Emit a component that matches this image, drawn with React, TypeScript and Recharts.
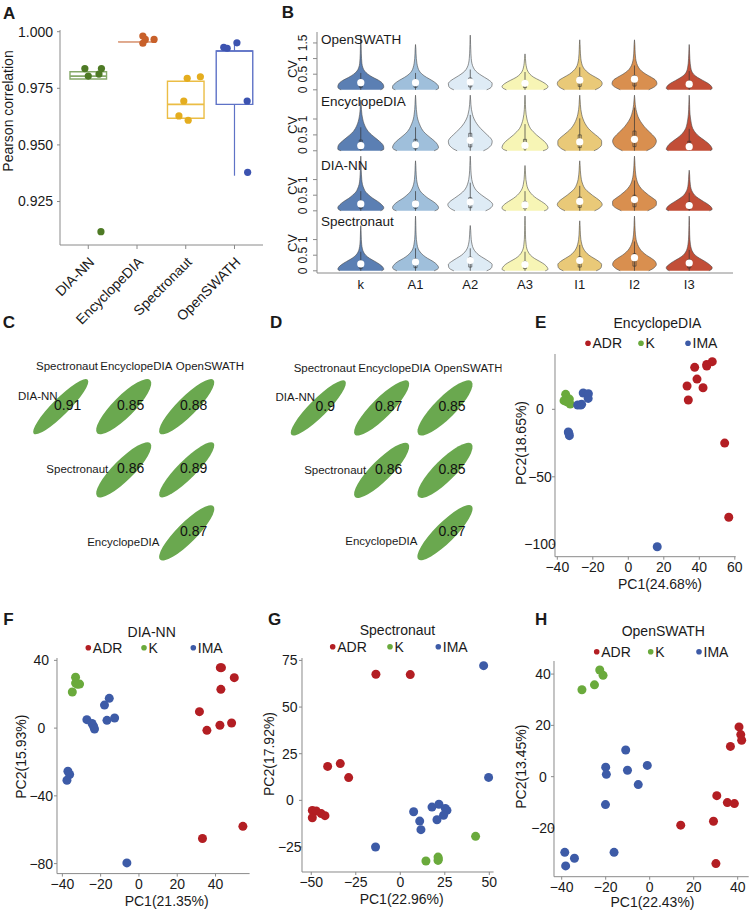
import React from "react";
import {
  ComposedChart,
  ScatterChart,
  Scatter,
  Area,
  XAxis,
  YAxis,
  ReferenceArea,
  ReferenceLine,
  ReferenceDot,
} from "recharts";

const FONT = '"Liberation Sans", Arial, Helvetica, sans-serif';
const INK = "#1a1a1a";
const FRAME = "#8a8a8a";

// ---------- A: Pearson correlation between replicates ----------
const methodsA = ["DIA-NN", "EncyclopeDIA", "Spectronaut", "OpenSWATH"];
const q1A = [0.9791, 0.9954, 0.9618, 0.9679];
const medianA = [0.9804, 0.9955, 0.9679, 0.9915];
const q3A = [0.9823, 0.9956, 0.9781, 0.9915];
const whiskerLowA = [0.9791, 0.9954, 0.9618, 0.9364];
const whiskerHighA = [0.9823, 0.9956, 0.9781, 0.9951];

const pearsonDiann = [0.9837, 0.9804, 0.9813, 0.9837, 0.9117];
const jitterDiann = [-0.07, 0.0, 0.22, 0.27, 0.26];
const pearsonEncyclo = [0.9981, 0.9966, 0.9949, 0.9966];
const jitterEncyclo = [0.12, 0.17, 0.12, 0.35];
const pearsonSpectro = [0.9794, 0.9801, 0.9694, 0.9628, 0.9609];
const jitterSpectro = [0.03, 0.3, -0.04, -0.14, 0.05];
const pearsonOpen = [0.9931, 0.9927, 0.9951, 0.9694, 0.9379];
const jitterOpen = [-0.22, -0.15, 0.05, 0.26, 0.27];

const pointColorA = ["#4e7a25", "#c8602a", "#e4ad1f", "#3c53b0"];
const boxColorA = ["#86a96a", "#dfa88c", "#ebbd45", "#5e72c6"];

// ---------- B: CV violins ----------
const groupsB = ["k", "A1", "A2", "A3", "I1", "I2", "I3"];
const cvLevels = [0, 0.05, 0.1, 0.2, 0.3, 0.4, 0.5, 0.6, 0.7, 0.85, 1.0, 1.15, 1.3, 1.45, 1.6, 1.75];

// half-width of each violin at every cv level (null above its tip)
const violinOpen = [
  [0.36, 0.41, 0.42, 0.4, 0.33, 0.22, 0.13, 0.07, 0.04, 0.02, 0.014, 0.01, 0.008, 0.006, 0.004, 0],
  [0.37, 0.42, 0.42, 0.38, 0.3, 0.2, 0.12, 0.07, 0.045, 0.025, 0.015, 0.01, 0.007, 0, null, null],
  [0.3, 0.36, 0.39, 0.4, 0.35, 0.26, 0.17, 0.1, 0.06, 0.03, 0.018, 0.012, 0.009, 0.006, 0.004, 0],
  [0.34, 0.4, 0.42, 0.37, 0.27, 0.16, 0.09, 0.05, 0.03, 0.015, 0.008, 0, null, null, null, null],
  [0.28, 0.34, 0.38, 0.41, 0.38, 0.29, 0.19, 0.12, 0.07, 0.035, 0.02, 0.013, 0.009, 0.006, 0, null],
  [0.26, 0.32, 0.37, 0.41, 0.39, 0.31, 0.21, 0.13, 0.08, 0.04, 0.022, 0.014, 0.01, 0.007, 0, null],
  [0.38, 0.42, 0.41, 0.35, 0.25, 0.15, 0.08, 0.045, 0.03, 0.018, 0.012, 0.008, 0.005, 0, null, null],
];
const violinEncyclo = [
  [0.36, 0.42, 0.42, 0.4, 0.34, 0.27, 0.2, 0.14, 0.1, 0.06, 0.035, 0.02, 0.012, 0.008, 0, null],
  [0.34, 0.4, 0.42, 0.4, 0.35, 0.28, 0.21, 0.15, 0.11, 0.07, 0.04, 0.025, 0.015, 0.01, 0.006, 0],
  [0.24, 0.3, 0.34, 0.39, 0.4, 0.37, 0.31, 0.25, 0.19, 0.12, 0.07, 0.04, 0.022, 0.012, 0.007, 0],
  [0.33, 0.4, 0.42, 0.4, 0.35, 0.28, 0.21, 0.15, 0.1, 0.06, 0.035, 0.02, 0.012, 0.008, 0.005, 0],
  [0.26, 0.32, 0.36, 0.4, 0.4, 0.36, 0.29, 0.22, 0.16, 0.1, 0.06, 0.035, 0.02, 0.012, 0.007, 0],
  [0.22, 0.28, 0.33, 0.38, 0.4, 0.38, 0.33, 0.27, 0.21, 0.14, 0.085, 0.05, 0.028, 0.015, 0.008, 0],
  [0.38, 0.42, 0.41, 0.37, 0.3, 0.22, 0.15, 0.1, 0.065, 0.04, 0.025, 0.015, 0.01, 0.007, 0.004, 0],
];
const violinDiann = [
  [0.36, 0.41, 0.42, 0.38, 0.31, 0.22, 0.15, 0.09, 0.06, 0.03, 0.018, 0.012, 0.008, 0.006, 0.004, 0],
  [0.35, 0.41, 0.42, 0.39, 0.32, 0.23, 0.16, 0.1, 0.065, 0.035, 0.02, 0.013, 0.009, 0.006, 0, null],
  [0.28, 0.34, 0.38, 0.41, 0.37, 0.29, 0.21, 0.14, 0.09, 0.05, 0.028, 0.017, 0.011, 0.008, 0.005, 0],
  [0.35, 0.41, 0.42, 0.38, 0.3, 0.21, 0.14, 0.09, 0.055, 0.03, 0.017, 0.011, 0.007, 0, null, null],
  [0.27, 0.33, 0.37, 0.41, 0.38, 0.31, 0.23, 0.16, 0.1, 0.055, 0.03, 0.018, 0.011, 0.007, 0, null],
  [0.24, 0.3, 0.35, 0.4, 0.4, 0.34, 0.26, 0.19, 0.13, 0.07, 0.04, 0.024, 0.015, 0.01, 0.006, 0],
  [0.37, 0.42, 0.41, 0.35, 0.26, 0.17, 0.1, 0.06, 0.035, 0.02, 0.012, 0.008, 0, null, null, null],
];
const violinSpectro = [
  [0.38, 0.42, 0.41, 0.35, 0.26, 0.16, 0.09, 0.05, 0.03, 0.016, 0.01, 0.007, 0.005, 0, null, null],
  [0.34, 0.4, 0.42, 0.39, 0.32, 0.22, 0.14, 0.085, 0.05, 0.028, 0.016, 0.011, 0.008, 0.006, 0.004, 0],
  [0.3, 0.36, 0.39, 0.4, 0.34, 0.25, 0.16, 0.1, 0.06, 0.032, 0.018, 0.012, 0.008, 0, null, null],
  [0.37, 0.42, 0.41, 0.36, 0.27, 0.17, 0.1, 0.06, 0.035, 0.02, 0.012, 0.009, 0.007, 0.005, 0.004, 0],
  [0.3, 0.36, 0.39, 0.4, 0.35, 0.26, 0.17, 0.11, 0.07, 0.038, 0.021, 0.013, 0.009, 0.006, 0, null],
  [0.26, 0.32, 0.36, 0.4, 0.38, 0.31, 0.22, 0.15, 0.1, 0.055, 0.03, 0.018, 0.012, 0.008, 0.005, 0],
  [0.36, 0.41, 0.42, 0.37, 0.29, 0.19, 0.11, 0.065, 0.04, 0.022, 0.013, 0.009, 0.007, 0.005, 0.004, 0],
];

const medianOpen = [0.23, 0.23, 0.25, 0.21, 0.31, 0.34, 0.18];
const medianEncyclo = [0.16, 0.19, 0.33, 0.17, 0.28, 0.36, 0.13];
const medianDiann = [0.22, 0.22, 0.28, 0.19, 0.3, 0.36, 0.17];
const medianSpectro = [0.22, 0.28, 0.33, 0.2, 0.33, 0.42, 0.25];

const q1Open = [0.08, 0.08, 0.09, 0.07, 0.11, 0.12, 0.06];
const q1Encyclo = [0.05, 0.06, 0.12, 0.06, 0.1, 0.13, 0.05];
const q1Diann = [0.08, 0.08, 0.1, 0.07, 0.11, 0.13, 0.06];
const q1Spectro = [0.08, 0.1, 0.12, 0.07, 0.12, 0.15, 0.09];

const q3Open = [0.32, 0.32, 0.38, 0.3, 0.42, 0.46, 0.28];
const q3Encyclo = [0.34, 0.36, 0.55, 0.36, 0.5, 0.62, 0.3];
const q3Diann = [0.32, 0.33, 0.42, 0.3, 0.44, 0.5, 0.28];
const q3Spectro = [0.32, 0.38, 0.44, 0.3, 0.45, 0.55, 0.36];

const whiskerOpen = [0.54, 0.54, 0.65, 0.57, 0.72, 0.78, 0.6];
const whiskerEncyclo = [0.74, 0.74, 1.13, 0.84, 1.02, 1.36, 0.69];
const whiskerDiann = [0.63, 0.63, 0.9, 0.63, 0.8, 0.97, 0.58];
const whiskerSpectro = [0.61, 0.72, 0.72, 0.61, 0.83, 0.94, 0.67];

const violinColors = ["#5b7fb3", "#9fbfdb", "#deebf5", "#f7f5b5", "#e9c978", "#d98f4f", "#c24e37"];

// ---------- C / D: correlation ellipses ----------
const corrCols = ["Spectronaut", "EncyclopeDIA", "OpenSWATH"];
const corrRows = ["DIA-NN", "Spectronaut", "EncyclopeDIA"];
const corrC = [
  [0.91, 0.85, 0.88],
  [null, 0.86, 0.89],
  [null, null, 0.87],
];
const corrD = [
  [0.9, 0.87, 0.85],
  [null, 0.86, 0.85],
  [null, null, 0.87],
];

// ---------- E-H: PCA ----------
const eAdrPc1 = [47.3, 44.2, 44.2, 37.4, 38.7, 33.1, 42.1, 33.8, 54.3, 56.6];
const eAdrPc2 = [35.3, 33.3, 32.1, 31.1, 22.4, 17.3, 16.0, 6.9, -25.0, -80.0];
const eKPc1 = [-35.3, -33.2, -36.2, -32.7, -34.6];
const eKPc2 = [11.1, 7.6, 6.4, 3.9, 5.5];
const eImaPc1 = [-25.4, -22.5, -22.6, -28.5, -26.8, -26.3, -33.8, -33.2, -33.5, 16.3];
const eImaPc2 = [12.1, 11.6, 8.1, 3.2, 3.2, 3.7, -16.8, -19.5, -17.8, -101.8];

const fAdrPc1 = [42.5, 43.1, 49.8, 42.8, 31.6, 42.3, 48.4, 35.5, 33.2, 54.3];
const fAdrPc2 = [35.7, 35.7, 29.8, 22.9, 9.7, 1.7, 3.0, -1.3, -65.2, -58.0];
const fKPc1 = [-33.1, -33.1, -31.0, -34.8, -32.1];
const fKPc2 = [30.0, 26.6, 26.0, 21.3, 25.9];
const fImaPc1 = [-15.5, -18.0, -27.2, -16.7, -12.7, -24.5, -23.7, -23.2, -37.1, -36.2, -37.6, -6.3];
const fImaPc2 = [17.6, 13.6, 5.0, 4.6, 6.0, 2.7, 1.1, -0.5, -25.5, -27.4, -30.8, -79.6];

const gAdrPc1 = [-13.7, 5.6, -40.8, -33.7, -29.0, -49.4, -47.2, -44.4, -42.3, -49.4];
const gAdrPc2 = [67.6, 67.4, 18.2, 19.7, 12.2, -5.4, -5.7, -7.1, -8.2, -9.3];
const gKPc1 = [42.3, 14.4, 21.2, 21.2, 21.4];
const gKPc2 = [-19.3, -32.5, -30.4, -32.2, -31.4];
const gImaPc1 = [46.8, 49.6, 7.5, 17.8, 21.7, 25.3, 26.2, 24.3, 20.6, 10.9, 11.6, -13.9];
const gImaPc2 = [72.2, 12.3, -6.1, -3.6, -2.1, -4.3, -5.4, -8.0, -10.4, -11.1, -15.7, -25.0];

const hAdrPc1 = [40.6, 41.4, 41.8, 36.7, 30.5, 35.3, 38.5, 29.0, 14.1, 30.1];
const hAdrPc2 = [19.4, 16.4, 14.2, 11.8, -7.4, -10.1, -10.5, -17.4, -18.9, -33.9];
const hKPc1 = [-22.7, -21.2, -25.1, -30.8];
const hKPc2 = [41.6, 39.5, 35.8, 33.9];
const hImaPc1 = [-10.9, -1.1, -20.0, -10.1, -19.7, -5.2, -20.1, -38.6, -34.2, -38.2, -16.2];
const hImaPc2 = [10.4, 4.4, 3.7, 2.5, 0.9, -3.1, -10.9, -29.5, -31.8, -34.8, -29.5];

const groupLabels = ["ADR", "K", "IMA"];
const groupColors = ["#b31e23", "#6aaa3c", "#3d5ba7"];

const zip = (xs: number[], ys: number[]) => xs.map((x, i) => ({ x, y: ys[i] }));
const minus = (v: number) => String(v).replace("-", "\u2212");

// ---------------- Panel A ----------------
function SlantTick(props: any) {
  const { x, y, payload } = props;
  const ax = x + 7;
  const ay = y + 12;
  return (
    <text
      x={ax}
      y={ay}
      transform={`rotate(-45 ${ax} ${ay})`}
      textAnchor="end"
      fontSize={14}
      fill={INK}
      fontFamily={FONT}
    >
      {methodsA[payload.value - 1]}
    </text>
  );
}

function PanelA() {
  const domainX = [0.42, 4.585];
  const pointSets = [
    zip(jitterDiann.map((j) => 1 + j), pearsonDiann),
    zip(jitterEncyclo.map((j) => 2 + j), pearsonEncyclo),
    zip(jitterSpectro.map((j) => 3 + j), pearsonSpectro),
    zip(jitterOpen.map((j) => 4 + j), pearsonOpen),
  ];
  const half = 0.375;

  return (
    <div style={{ position: "absolute", left: 0, top: 0 }}>
      <ComposedChart width={268} height={330} margin={{ top: 30, right: 5, bottom: 0, left: 0 }}>
        <XAxis
          type="number"
          dataKey="x"
          domain={domainX}
          ticks={[1, 2, 3, 4]}
          interval={0}
          allowDataOverflow
          height={85}
          tickSize={4}
          tickMargin={2}
          tick={<SlantTick />}
          axisLine={{ stroke: FRAME }}
          tickLine={{ stroke: FRAME }}
        />
        <XAxis
          xAxisId="top"
          orientation="top"
          type="number"
          domain={domainX}
          allowDataOverflow
          height={0}
          tick={false}
          tickLine={false}
          axisLine={{ stroke: FRAME }}
        />
        <YAxis
          type="number"
          dataKey="y"
          domain={[0.9058, 1.00075]}
          ticks={[0.925, 0.95, 0.975, 1]}
          interval={0}
          allowDataOverflow
          width={60}
          tickSize={3}
          tickMargin={4}
          tickFormatter={(v: number) => v.toFixed(3)}
          tick={{ fontSize: 14, fill: INK, fontFamily: FONT }}
          axisLine={{ stroke: FRAME }}
          tickLine={{ stroke: FRAME }}
        />
        <YAxis
          yAxisId="right"
          orientation="right"
          type="number"
          domain={[0.9058, 1.00075]}
          width={0}
          tick={false}
          tickLine={false}
          axisLine={{ stroke: FRAME }}
        />

        {methodsA.map((m, i) => (
          <ReferenceArea
            key={`box-${m}`}
            x1={i + 1 - half}
            x2={i + 1 + half}
            y1={q1A[i]}
            y2={q3A[i]}
            fill="#ffffff"
            fillOpacity={0.6}
            stroke={boxColorA[i]}
            strokeWidth={1.4}
          />
        ))}
        {methodsA.map((m, i) => (
          <ReferenceLine
            key={`med-${m}`}
            segment={[
              { x: i + 1 - half, y: medianA[i] },
              { x: i + 1 + half, y: medianA[i] },
            ]}
            stroke={boxColorA[i]}
            strokeWidth={1.6}
          />
        ))}
        {methodsA.map((m, i) => (
          <ReferenceLine
            key={`wlo-${m}`}
            segment={[
              { x: i + 1, y: q1A[i] },
              { x: i + 1, y: whiskerLowA[i] },
            ]}
            stroke={boxColorA[i]}
            strokeWidth={1.2}
          />
        ))}
        {methodsA.map((m, i) => (
          <ReferenceLine
            key={`whi-${m}`}
            segment={[
              { x: i + 1, y: q3A[i] },
              { x: i + 1, y: whiskerHighA[i] },
            ]}
            stroke={boxColorA[i]}
            strokeWidth={1.2}
          />
        ))}

        {pointSets.map((pts, i) => (
          <Scatter
            key={`pts-${i}`}
            data={pts}
            isAnimationActive={false}
            shape={(p: any) => <circle cx={p.cx} cy={p.cy} r={3.6} fill={pointColorA[i]} />}
          />
        ))}
      </ComposedChart>
    </div>
  );
}

// ---------------- Panel B ----------------
function CvTick(props: any) {
  const { x, y, payload } = props;
  return (
    <text
      x={x}
      y={y}
      transform={`rotate(-90 ${x} ${y})`}
      textAnchor="middle"
      fontSize={12}
      fill={INK}
      fontFamily={FONT}
    >
      {payload.value}
    </text>
  );
}

const rowTopsB = [32, 92, 153, 213];
const rowHeightsB = [60, 61, 60, 60];

function ViolinRow({ idx, widths, medians, q1, q3, whiskers, yTicks }: any) {
  const data = cvLevels.map((cv, li) => {
    const row: any = { cv };
    groupsB.forEach((g, gi) => {
      row[g] = widths[gi][li];
    });
    return row;
  });
  const last = idx === 3;
  const xAxisH = last ? 22 : 0;
  const domainX = [0.2, 7.8];
  const domainY = [-0.07, 1.85];

  return (
    <div style={{ position: "absolute", left: 262, top: rowTopsB[idx] - 1 }}>
      <ComposedChart
        layout="vertical"
        width={472}
        height={rowHeightsB[idx] + 2 + xAxisH}
        data={data}
        margin={{ top: 1, right: 1, bottom: 1, left: 0 }}
      >
        <XAxis
          type="number"
          domain={domainX}
          ticks={[1, 2, 3, 4, 5, 6, 7]}
          interval={0}
          allowDataOverflow
          height={xAxisH}
          tickLine={false}
          tickMargin={1}
          tick={last ? { fontSize: 13, fill: INK, fontFamily: FONT } : false}
          tickFormatter={(v: number) => groupsB[v - 1]}
          axisLine={{ stroke: FRAME }}
        />
        <XAxis
          xAxisId="top"
          orientation="top"
          type="number"
          domain={domainX}
          allowDataOverflow
          height={0}
          tick={false}
          tickLine={false}
          axisLine={{ stroke: FRAME }}
        />
        <YAxis
          type="number"
          dataKey="cv"
          domain={domainY}
          reversed
          ticks={yTicks}
          interval={0}
          allowDataOverflow
          width={55}
          tickSize={4}
          tickMargin={6}
          tick={<CvTick />}
          axisLine={{ stroke: FRAME }}
          tickLine={{ stroke: FRAME }}
        />
        <YAxis
          yAxisId="right"
          orientation="right"
          type="number"
          domain={domainY}
          reversed
          allowDataOverflow
          width={0}
          tick={false}
          tickLine={false}
          axisLine={{ stroke: FRAME }}
        />

        {groupsB.map((g, gi) => (
          <Area
            key={g}
            dataKey={(d: any) => (d[g] == null ? [null, null] : [gi + 1 - d[g], gi + 1 + d[g]])}
            type="monotone"
            fill={violinColors[gi]}
            fillOpacity={1}
            stroke="#4a4a4a"
            strokeWidth={0.6}
            dot={false}
            activeDot={false}
            isAnimationActive={false}
          />
        ))}
        {groupsB.map((g, gi) => (
          <ReferenceLine
            key={`w-${g}`}
            segment={[
              { x: gi + 1, y: 0 },
              { x: gi + 1, y: whiskers[gi] },
            ]}
            stroke="#333333"
            strokeWidth={0.7}
          />
        ))}
        {groupsB.map((g, gi) => (
          <ReferenceArea
            key={`b-${g}`}
            x1={gi + 1 - 0.028}
            x2={gi + 1 + 0.028}
            y1={q1[gi]}
            y2={q3[gi]}
            fill="none"
            stroke="#333333"
            strokeWidth={0.6}
          />
        ))}
        {groupsB.map((g, gi) => (
          <ReferenceDot key={`m-${g}`} x={gi + 1} y={medians[gi]} r={3.6} fill="#ffffff" stroke="none" />
        ))}
      </ComposedChart>
    </div>
  );
}

function PanelB() {
  return (
    <>
      <ViolinRow idx={0} widths={violinOpen} medians={medianOpen} q1={q1Open} q3={q3Open} whiskers={whiskerOpen} yTicks={[0, 0.5, 1, 1.5]} />
      <ViolinRow idx={1} widths={violinEncyclo} medians={medianEncyclo} q1={q1Encyclo} q3={q3Encyclo} whiskers={whiskerEncyclo} yTicks={[0, 0.5, 1]} />
      <ViolinRow idx={2} widths={violinDiann} medians={medianDiann} q1={q1Diann} q3={q3Diann} whiskers={whiskerDiann} yTicks={[0, 0.5, 1]} />
      <ViolinRow idx={3} widths={violinSpectro} medians={medianSpectro} q1={q1Spectro} q3={q3Spectro} whiskers={whiskerSpectro} yTicks={[0, 0.5, 1]} />
    </>
  );
}

// ---------------- Panels C / D ----------------
const corrHeaderX = [1.1, 2.2, 3.37];
const corrHeaderY = 0.36;
const corrRowLabelX = [0.95, 1.755, 2.565];
const corrRowLabelY = [0.83, 1.99, 3.14];

function CorrPanel({ left, top, width, height, xDomain, values }: any) {
  const cells: any[] = [];
  values.forEach((row: any[], ri: number) =>
    row.forEach((v: any, ci: number) => {
      if (v != null) cells.push({ x: ci + 1, y: ri + 1, r: v });
    })
  );
  const labels = [
    ...corrCols.map((t, i) => ({ x: corrHeaderX[i], y: corrHeaderY, text: t, anchor: "middle" })),
    ...corrRows.map((t, i) => ({ x: corrRowLabelX[i], y: corrRowLabelY[i], text: t, anchor: "end" })),
  ];
  const yDomain = [0.07, 3.53];
  const s = 27.6;

  return (
    <div style={{ position: "absolute", left: left - 1, top: top - 1 }}>
      <ScatterChart width={width + 2} height={height + 2} margin={{ top: 1, right: 1, bottom: 1, left: 1 }}>
        <XAxis type="number" dataKey="x" domain={xDomain} allowDataOverflow height={0} tick={false} tickLine={false} axisLine={{ stroke: "#777" }} />
        <XAxis xAxisId="top" orientation="top" type="number" domain={xDomain} allowDataOverflow height={0} tick={false} tickLine={false} axisLine={{ stroke: "#777" }} />
        <YAxis type="number" dataKey="y" domain={yDomain} reversed allowDataOverflow width={0} tick={false} tickLine={false} axisLine={{ stroke: "#777" }} />
        <YAxis yAxisId="right" orientation="right" type="number" domain={yDomain} reversed allowDataOverflow width={0} tick={false} tickLine={false} axisLine={{ stroke: "#777" }} />
        <Scatter
          data={cells}
          isAnimationActive={false}
          shape={(p: any) => {
            const r = p.payload.r;
            return (
              <g>
                <ellipse
                  cx={p.cx}
                  cy={p.cy}
                  rx={s * Math.sqrt(1 + r)}
                  ry={s * Math.sqrt(1 - r)}
                  transform={`rotate(-45 ${p.cx} ${p.cy})`}
                  fill="#6aa84f"
                />
                <text
                  x={p.cx + 7}
                  y={p.cy - 1.5}
                  textAnchor="middle"
                  dominantBaseline="central"
                  fontSize={14}
                  fill="#111"
                  fontFamily={FONT}
                >
                  {String(r)}
                </text>
              </g>
            );
          }}
        />
        <Scatter
          data={labels}
          isAnimationActive={false}
          shape={(p: any) => (
            <text
              x={p.cx}
              y={p.cy}
              textAnchor={p.payload.anchor}
              dominantBaseline="central"
              fontSize={11.5}
              fill={INK}
              fontFamily={FONT}
            >
              {p.payload.text}
            </text>
          )}
        />
      </ScatterChart>
    </div>
  );
}

// ---------------- Panels E-H ----------------
function CenteredYTick(props: any) {
  const { x, y, payload, shift } = props;
  return (
    <text x={x - shift} y={y} textAnchor="middle" dominantBaseline="central" fontSize={14} fill={INK} fontFamily={FONT}>
      {minus(payload.value)}
    </text>
  );
}

function PcaPanel({ plot, xDomain, yDomain, xTicks, yTicks, yShift, groups }: any) {
  const yAxisW = 45;
  const xAxisH = 30;
  const padTop = 9;
  const padRight = 14;
  return (
    <div style={{ position: "absolute", left: plot.left - yAxisW, top: plot.top - padTop }}>
      <ScatterChart
        width={yAxisW + plot.width + padRight}
        height={plot.height + padTop + xAxisH}
        margin={{ top: padTop, right: padRight, bottom: 0, left: 0 }}
      >
        <XAxis
          type="number"
          dataKey="x"
          domain={xDomain}
          ticks={xTicks}
          interval={0}
          allowDataOverflow
          height={xAxisH}
          tickSize={3}
          tickMargin={2}
          tickFormatter={minus}
          tick={{ fontSize: 14, fill: INK, fontFamily: FONT }}
          axisLine={{ stroke: FRAME }}
          tickLine={{ stroke: FRAME }}
        />
        <XAxis xAxisId="top" orientation="top" type="number" domain={xDomain} allowDataOverflow height={0} tick={false} tickLine={false} axisLine={{ stroke: FRAME }} />
        <YAxis
          type="number"
          dataKey="y"
          domain={yDomain}
          ticks={yTicks}
          interval={0}
          allowDataOverflow
          width={yAxisW}
          tickSize={3}
          tickMargin={2}
          tick={<CenteredYTick shift={yShift} />}
          axisLine={{ stroke: FRAME }}
          tickLine={{ stroke: FRAME }}
        />
        <YAxis yAxisId="right" orientation="right" type="number" domain={yDomain} allowDataOverflow width={0} tick={false} tickLine={false} axisLine={{ stroke: FRAME }} />
        {groups.map((pts: any[], gi: number) => (
          <Scatter
            key={groupLabels[gi]}
            data={pts}
            isAnimationActive={false}
            shape={(p: any) => <circle cx={p.cx} cy={p.cy} r={4.5} fill={groupColors[gi]} />}
          />
        ))}
      </ScatterChart>
    </div>
  );
}

// ---------------- overlay texts ----------------
const panelLetters = [
  { t: "A", x: 3, y: 18.5 },
  { t: "B", x: 281.7, y: 18.3 },
  { t: "C", x: 2.7, y: 328 },
  { t: "D", x: 270, y: 328 },
  { t: "E", x: 535, y: 328 },
  { t: "F", x: 3.3, y: 625 },
  { t: "G", x: 268, y: 625 },
  { t: "H", x: 535, y: 625 },
];
const stripTitles = ["OpenSWATH", "EncyclopeDIA", "DIA-NN", "Spectronaut"];
const stripBaselines = [44, 106, 170, 226];
const cvLabelY = [69, 125, 186, 243];

const pcaHeaders = [
  { title: "EncyclopeDIA", cx: 657.5, ty: 328, dots: [588, 641, 688], dy: 343.3, pc1: "PC1(24.68%)", p1x: 660, p1y: 589, pc2: "PC2(18.65%)", p2x: 525.5, p2y: 443 },
  { title: "DIA-NN", cx: 151.7, ty: 636.5, dots: [88.3, 144, 193.3], dy: 647.7, pc1: "PC1(21.35%)", p1x: 166.7, p1y: 906, pc2: "PC2(15.93%)", p2x: 25.5, p2y: 756.7 },
  { title: "Spectronaut", cx: 397.5, ty: 635, dots: [332.7, 390, 438.3], dy: 646.7, pc1: "PC1(22.96%)", p1x: 401.7, p1y: 904, pc2: "PC2(17.92%)", p2x: 274, p2y: 754 },
  { title: "OpenSWATH", cx: 663.3, ty: 636, dots: [596.7, 650.7, 699], dy: 651.7, pc1: "PC1(22.43%)", p1x: 652.5, p1y: 907, pc2: "PC2(13.45%)", p2x: 525.5, p2y: 766.7 },
];

function Overlay() {
  const base = { fontFamily: FONT, fill: INK };
  return (
    <svg width={750} height={912} style={{ position: "absolute", left: 0, top: 0, pointerEvents: "none" }}>
      {panelLetters.map((l) => (
        <text key={l.t} x={l.x} y={l.y} fontSize={17} fontWeight="bold" {...base}>
          {l.t}
        </text>
      ))}
      <text x={0} y={0} transform="translate(12.5 111) rotate(-90)" textAnchor="middle" fontSize={14} {...base}>
        Pearson correlation
      </text>
      {stripTitles.map((t, i) => (
        <text key={t} x={321} y={stripBaselines[i]} fontSize={13.5} {...base}>
          {t}
        </text>
      ))}
      {cvLabelY.map((y, i) => (
        <text key={`cv-${i}`} x={0} y={0} transform={`translate(296.5 ${y}) rotate(-90)`} textAnchor="middle" fontSize={13} {...base}>
          CV
        </text>
      ))}
      {pcaHeaders.map((h) => (
        <g key={h.title}>
          <text x={h.cx} y={h.ty} textAnchor="middle" fontSize={14} {...base}>
            {h.title}
          </text>
          {groupLabels.map((g, gi) => (
            <g key={g}>
              <circle cx={h.dots[gi]} cy={h.dy} r={2.8} fill={groupColors[gi]} />
              <text x={h.dots[gi] + 4.5} y={h.dy + 5} fontSize={14} {...base}>
                {g}
              </text>
            </g>
          ))}
          <text x={h.p1x} y={h.p1y} textAnchor="middle" fontSize={14} {...base}>
            {h.pc1}
          </text>
          <text x={0} y={0} transform={`translate(${h.p2x} ${h.p2y}) rotate(-90)`} textAnchor="middle" fontSize={14} {...base}>
            {h.pc2}
          </text>
        </g>
      ))}
    </svg>
  );
}

export default function App() {
  return (
    <div
      style={{
        position: "absolute",
        left: 0,
        top: 0,
        width: 750,
        height: 912,
        background: "#ffffff",
        fontFamily: FONT,
        overflow: "hidden",
      }}
    >
      <PanelA />
      <PanelB />
      <CorrPanel left={17.3} top={348.3} width={233.4} height={218.4} xDomain={[0.306, 4.011]} values={corrC} />
      <CorrPanel left={269} top={350} width={232.7} height={215.7} xDomain={[0.222, 3.895]} values={corrD} />
      <PcaPanel
        plot={{ left: 555, top: 354, width: 180.7, height: 202.7 }}
        xDomain={[-41.3, 60.5]}
        yDomain={[-109.2, 41]}
        xTicks={[-40, -20, 0, 20, 40, 60]}
        yTicks={[-100, -50, 0]}
        yShift={10}
        groups={[zip(eAdrPc1, eAdrPc2), zip(eKPc1, eKPc2), zip(eImaPc1, eImaPc2)]}
      />
      <PcaPanel
        plot={{ left: 56.7, top: 657.7, width: 192.6, height: 215.6 }}
        xDomain={[-42.8, 57.8]}
        yDomain={[-85.9, 41.4]}
        xTicks={[-40, -20, 0, 20, 40]}
        yTicks={[-80, -40, 0, 40]}
        yShift={10.7}
        groups={[zip(fAdrPc1, fAdrPc2), zip(fKPc1, fKPc2), zip(fImaPc1, fImaPc2)]}
      />
      <PcaPanel
        plot={{ left: 301.7, top: 657.7, width: 191.6, height: 214 }}
        xDomain={[-55.2, 52.4]}
        yDomain={[-38.4, 76.3]}
        xTicks={[-50, -25, 0, 25, 50]}
        yTicks={[-25, 0, 25, 50, 75]}
        yShift={7.2}
        groups={[zip(gAdrPc1, gAdrPc2), zip(gKPc1, gKPc2), zip(gImaPc1, gImaPc2)]}
      />
      <PcaPanel
        plot={{ left: 554.3, top: 661, width: 194.7, height: 215.7 }}
        xDomain={[-43.5, 45]}
        yDomain={[-39, 45.1]}
        xTicks={[-40, -20, 0, 20, 40]}
        yTicks={[-20, 0, 20, 40]}
        yShift={6}
        groups={[zip(hAdrPc1, hAdrPc2), zip(hKPc1, hKPc2), zip(hImaPc1, hImaPc2)]}
      />
      <Overlay />
    </div>
  );
}
